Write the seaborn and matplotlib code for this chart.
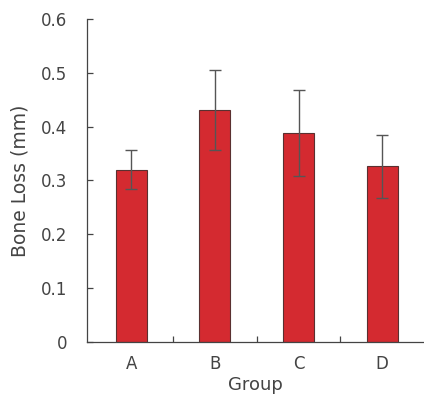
import numpy as np
import pandas as pd
import seaborn as sns
import matplotlib.pyplot as plt
from matplotlib.ticker import FixedLocator

groups = ['A', 'B', 'C', 'D']
bone_loss = [0.320, 0.430, 0.388, 0.326]
bone_loss_err = [0.036, 0.074, 0.080, 0.058]
yticks = [0, 0.1, 0.2, 0.3, 0.4, 0.5, 0.6]
ytick_labels = ['0', '0.1', '0.2', '0.3', '0.4', '0.5', '0.6']

df = pd.DataFrame({'Group': groups, 'Bone Loss': bone_loss, 'err': bone_loss_err})

sns.set_style('white')
plt.rcParams['font.family'] = ['DejaVu Sans']

fig = plt.figure(figsize=(4.24, 3.98), dpi=100)
ax = fig.add_axes([0.205, 0.14, 0.795, 0.813])

sns.barplot(data=df, x='Group', y='Bone Loss', color='#d42a30',
            width=0.37, edgecolor='#5a3030', linewidth=0.8, saturation=1, ax=ax)
ax.errorbar(x=np.arange(len(groups)), y=df['Bone Loss'], yerr=df['err'],
            fmt='none', ecolor='#555555', elinewidth=1.0, capsize=4.5, capthick=1.0)

ax.set_xlim(-0.53, 3.5)
ax.set_ylim(0, 0.6)
ax.set_yticks(yticks)
ax.set_yticklabels(ytick_labels)
ax.xaxis.set_minor_locator(FixedLocator([0.5, 1.5, 2.5]))

text_color = '#444444'
ax.tick_params(axis='y', direction='in', length=4, width=0.9, color='#444444',
               labelsize=12, labelcolor=text_color, pad=14, left=True)
ax.tick_params(axis='x', which='major', length=0, labelsize=12,
               labelcolor=text_color, pad=9)
ax.tick_params(axis='x', which='minor', direction='in', length=4, width=0.9,
               color='#444444', bottom=True)

for side in ['top', 'right']:
    ax.spines[side].set_visible(False)
for side in ['left', 'bottom']:
    ax.spines[side].set_color('#444444')
    ax.spines[side].set_linewidth(0.9)

ax.set_xlabel('Group', fontsize=13, color=text_color, labelpad=2)
ax.set_ylabel('Bone Loss (mm)', fontsize=13.5, color=text_color, labelpad=8)

plt.savefig('out.png', dpi=100)
plt.close()
